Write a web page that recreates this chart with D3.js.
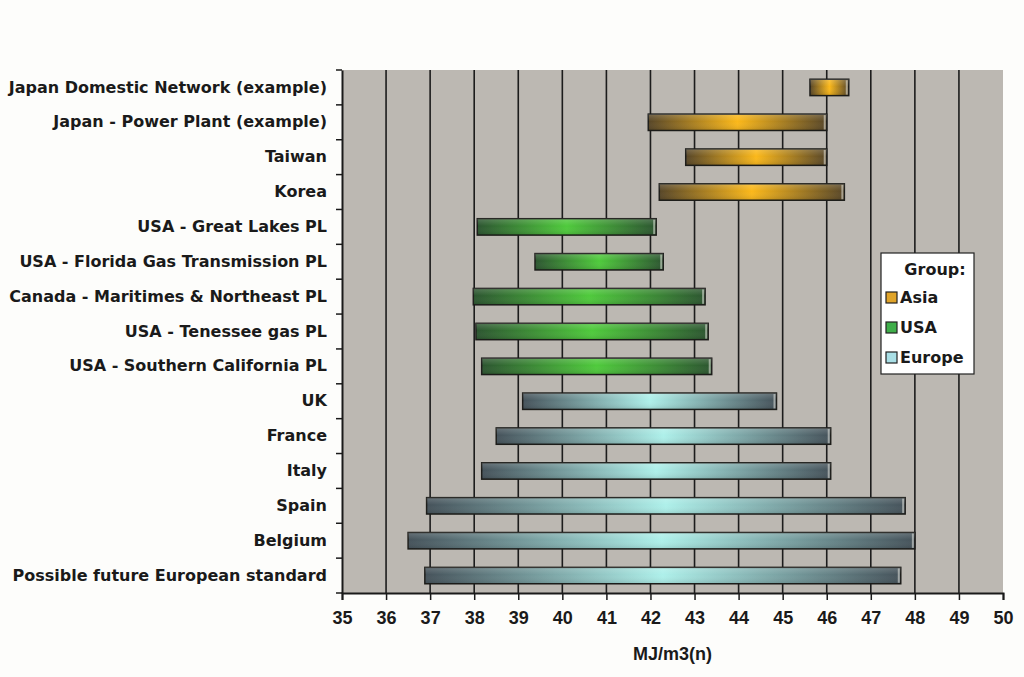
<!doctype html>
<html lang='en'>
<head>
<meta charset='UTF-8'>
<title>Gas ranges</title>
<style>
  body { margin: 0; background: #fdfdfb; }
  svg text { font-family: 'DejaVu Sans', 'Liberation Sans', Arial, sans-serif; font-weight: bold; fill: #1a1a1a; }
  svg .num { font-family: 'Liberation Sans Narrow', 'Arial Narrow', 'Liberation Sans', sans-serif; font-stretch: condensed; }
</style>
</head>
<body>
<script src='https://d3js.org/d3.v7.min.js'></script>
<script>
  const categories = [
    'Japan Domestic Network (example)', 'Japan - Power Plant (example)', 'Taiwan', 'Korea',
    'USA - Great Lakes PL', 'USA - Florida Gas Transmission PL', 'Canada - Maritimes & Northeast PL',
    'USA - Tenessee gas PL', 'USA - Southern California PL', 'UK', 'France', 'Italy', 'Spain',
    'Belgium', 'Possible future European standard'
  ]
  const lows  = [45.62, 41.95, 42.8, 42.2, 38.07, 39.38, 37.98, 38.04, 38.17, 39.1, 38.5, 38.17, 36.92, 36.5, 36.88]
  const highs = [46.5, 46.0, 46.0, 46.4, 42.13, 42.29, 43.24, 43.31, 43.39, 44.86, 46.09, 46.09, 47.78, 48.0, 47.68]
  const groups = ['Asia', 'Asia', 'Asia', 'Asia', 'USA', 'USA', 'USA', 'USA', 'USA',
    'Europe', 'Europe', 'Europe', 'Europe', 'Europe', 'Europe']
  const groupNames = ['Asia', 'USA', 'Europe']
  const xTicks = d3.range(35, 51)

  const w = 1024, h = 677
  const margin = { top: 70, right: 21, bottom: 84, left: 342 }
  const iw = w - margin.left - margin.right
  const ih = h - margin.top - margin.bottom

  // edge colour / centre colour for each group
  const shades = {
    Asia:   { edge: '#574628', mid: '#fbb81a', legend: '#e0a42a' },
    USA:    { edge: '#2c5530', mid: '#4fca3c', legend: '#3fae4a' },
    Europe: { edge: '#45525a', mid: '#aef0ea', legend: '#a9dfe6' }
  }

  const x = d3.scaleLinear().domain([35, 50]).range([0, iw])
  const y = d3.scaleBand().domain(categories).range([0, ih])

  const svg = d3.select('body').append('svg').attr('width', w).attr('height', h)
  const defs = svg.append('defs')

  groupNames.forEach(g => {
    const grad = defs.append('linearGradient').attr('id', 'grad-' + g)
      .attr('x1', '0%').attr('x2', '100%').attr('y1', '0%').attr('y2', '0%')
    grad.append('stop').attr('offset', '0%').attr('stop-color', shades[g].edge)
    grad.append('stop').attr('offset', '50%').attr('stop-color', shades[g].mid)
    grad.append('stop').attr('offset', '100%').attr('stop-color', shades[g].edge)
  })
  const gloss = defs.append('linearGradient').attr('id', 'gloss')
    .attr('x1', '0%').attr('x2', '0%').attr('y1', '0%').attr('y2', '100%')
  gloss.append('stop').attr('offset', '0%').attr('stop-color', '#fff').attr('stop-opacity', 0.18)
  gloss.append('stop').attr('offset', '45%').attr('stop-color', '#fff').attr('stop-opacity', 0)
  gloss.append('stop').attr('offset', '100%').attr('stop-color', '#000').attr('stop-opacity', 0.12)

  const g = svg.append('g').attr('transform', `translate(${margin.left},${margin.top})`)

  // plot background
  g.append('rect').attr('width', iw).attr('height', ih).attr('fill', '#bcb8b2')

  // vertical grid
  g.selectAll('.grid').data(xTicks.filter(t => t > 35 && t < 50)).enter()
    .append('line')
    .attr('x1', d => x(d)).attr('x2', d => x(d))
    .attr('y1', 0).attr('y2', ih)
    .attr('stroke', '#1c1c1c').attr('stroke-width', 1.6)

  // bars
  const barH = y.bandwidth() * 0.47
  const idx = d3.range(categories.length)
  const bars = g.selectAll('.bar').data(idx).enter().append('g')
  bars.append('rect')
    .attr('x', i => x(lows[i]))
    .attr('y', i => y(categories[i]) + (y.bandwidth() - barH) / 2)
    .attr('width', i => x(highs[i]) - x(lows[i]))
    .attr('height', barH)
    .attr('fill', i => `url(#grad-${groups[i]})`)
    .attr('stroke', '#1d1d1a').attr('stroke-width', 1.5)
  bars.append('rect')
    .attr('x', i => x(lows[i]))
    .attr('y', i => y(categories[i]) + (y.bandwidth() - barH) / 2)
    .attr('width', i => x(highs[i]) - x(lows[i]))
    .attr('height', barH)
    .attr('fill', 'url(#gloss)')
  // light end cap on the right side
  bars.append('rect')
    .attr('x', i => x(highs[i]) - 3)
    .attr('y', i => y(categories[i]) + (y.bandwidth() - barH) / 2 + 1)
    .attr('width', 2)
    .attr('height', barH - 2)
    .attr('fill', '#e8e8e0').attr('opacity', 0.55)

  // y axis
  const yAxis = g.append('g').call(d3.axisLeft(y).tickSize(0).tickPadding(15))
  yAxis.select('.domain').attr('stroke', '#1a1a1a').attr('stroke-width', 2)
  yAxis.selectAll('text').attr('font-size', 16).style('font-weight', 'bold')
    .attr('fill', '#1a1a1a').style('font-family', "'DejaVu Sans', sans-serif")
  // boundary tick marks on the category axis
  g.selectAll('.ytick').data(d3.range(categories.length + 1)).enter()
    .append('line')
    .attr('x1', -6).attr('x2', 0)
    .attr('y1', i => i * y.step()).attr('y2', i => i * y.step())
    .attr('stroke', '#1a1a1a').attr('stroke-width', 1.5)

  // x axis
  const xAxis = g.append('g').attr('transform', `translate(0,${ih})`)
    .call(d3.axisBottom(x).tickValues(xTicks).tickSize(7).tickPadding(11).tickFormat(d3.format('d')))
  xAxis.select('.domain').attr('stroke', '#1a1a1a').attr('stroke-width', 2)
  xAxis.selectAll('line').attr('stroke', '#1a1a1a').attr('stroke-width', 1.5)
  xAxis.selectAll('text').attr('class', 'num').attr('font-size', 18).style('font-weight', 'bold')
    .attr('fill', '#1a1a1a')

  svg.append('text').attr('class', 'num')
    .attr('x', margin.left + iw / 2).attr('y', 660)
    .attr('text-anchor', 'middle').attr('font-size', 18)
    .text('MJ/m3(n)')

  // legend
  const lg = svg.append('g').attr('transform', 'translate(881,253)')
  lg.append('rect').attr('width', 93).attr('height', 121)
    .attr('fill', '#ffffff').attr('stroke', '#222').attr('stroke-width', 1.2)
  lg.append('text').attr('x', 54).attr('y', 22).attr('text-anchor', 'middle')
    .attr('font-size', 16).text('Group:')
  const items = lg.selectAll('.item').data(groupNames).enter().append('g')
    .attr('transform', (d, i) => `translate(5,${39 + i * 30})`)
  items.append('rect').attr('width', 11).attr('height', 11)
    .attr('fill', d => shades[d].legend).attr('stroke', '#222').attr('stroke-width', 1.2)
  items.append('text').attr('x', 14).attr('y', 11).attr('font-size', 16).text(d => d)
</script>
</body>
</html>
